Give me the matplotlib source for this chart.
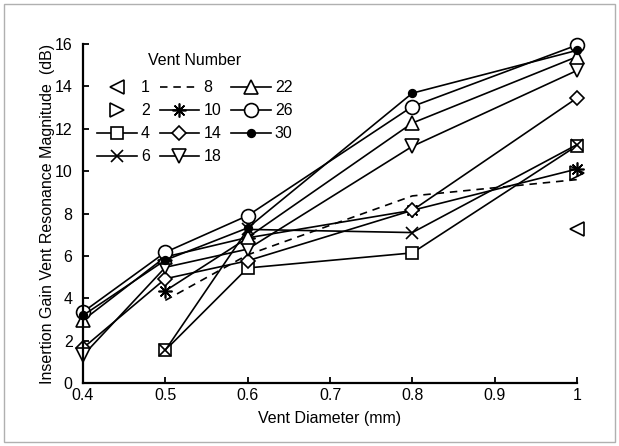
import numpy as np
import matplotlib
matplotlib.use("Agg")
import matplotlib.pyplot as plt
from matplotlib.patches import Rectangle

plt.rcParams['font.family'] = ['Liberation Sans', 'DejaVu Sans']

diam = [0.4, 0.5, 0.6, 0.8, 1.0]
nan = np.nan
vent1 = [nan, nan, nan, nan, 7.25]
vent2 = [nan, nan, nan, nan, 9.9]
vent4 = [nan, 1.55, 5.43, 6.14, 11.2]
vent6 = [nan, 1.55, 7.25, 7.1, 11.25]
vent8 = [nan, 3.9, 6.05, 8.83, 9.6]
vent10 = [nan, 4.35, 6.85, 8.15, 10.1]
vent14 = [1.65, 4.92, 5.77, 8.15, 13.45]
vent18 = [1.3, 5.46, 6.32, 11.17, 14.75]
vent22 = [2.96, 5.95, 6.87, 12.27, 15.4]
vent26 = [3.35, 6.17, 7.9, 13.05, 15.95]
vent30 = [3.19, 5.8, 7.32, 13.68, 15.7]

labels = ['1', '2', '4', '6', '8', '10', '14', '18', '22', '26', '30']
series = [vent1, vent2, vent4, vent6, vent8, vent10, vent14, vent18, vent22, vent26, vent30]

styles = [
    dict(marker='<', ls='none', ms=10),
    dict(marker='>', ls='none', ms=10),
    dict(marker='s', ls='-', ms=8.5),
    dict(marker='x', ls='-', ms=8),
    dict(marker='None', ls=(0, (4.5, 3.5))),
    dict(marker=(8, 2, 0), ls='-', ms=10),
    dict(marker='D', ls='-', ms=7),
    dict(marker='v', ls='-', ms=10),
    dict(marker='^', ls='-', ms=10),
    dict(marker='o', ls='-', ms=10),
    dict(marker='o', ls='-', ms=5.5, mfc='black'),
]

fig = plt.figure(figsize=(6.19, 4.46), dpi=100)
ax = fig.add_axes([83/619, 1-383/446, (577-83)/619, (383-44)/446])

for lab, y, st in zip(labels, series, styles):
    st = dict(st)
    mfc = st.pop('mfc', 'white')
    ax.plot(diam, y, color='black', lw=1.2, mec='black', mfc=mfc, mew=1.2,
            label=lab, clip_on=False, **st)

ax.set_xlim(0.4, 1.0)
ax.set_ylim(0, 16)
ax.set_xticks([0.4, 0.5, 0.6, 0.7, 0.8, 0.9, 1.0])
ax.set_xticklabels(['0.4', '0.5', '0.6', '0.7', '0.8', '0.9', '1'])
ax.set_yticks(range(0, 17, 2))
for s in ['top', 'right']:
    ax.spines[s].set_visible(False)
for s in ['left', 'bottom']:
    ax.spines[s].set_linewidth(1.6)
ax.tick_params(direction='in', length=4, width=1.3, labelsize=11.5)
ax.tick_params(axis='x', pad=3.5)
ax.tick_params(axis='y', pad=7.5)
ax.set_xlabel('Vent Diameter (mm)', fontsize=11.5, labelpad=6)
ax.set_ylabel('Insertion Gain Vent Resonance Magnitude  (dB)', fontsize=11.5, labelpad=0)

leg = ax.legend(ncol=3, title='Vent Number', frameon=False, fontsize=11.5,
                title_fontsize=11.5, loc='upper left',
                bbox_to_anchor=(97/619, 1-53/446), bbox_transform=fig.transFigure,
                borderpad=0, borderaxespad=0, handlelength=2.5, handletextpad=0.25,
                columnspacing=0.6, labelspacing=0.5)
leg._legend_box.sep = 9.0

fig.patches.append(Rectangle((4/619, 4/446), 611/619, 438/446, transform=fig.transFigure,
                             fill=False, edgecolor='#b0b0b0', lw=1))

fig.savefig('out.png', dpi=100)
